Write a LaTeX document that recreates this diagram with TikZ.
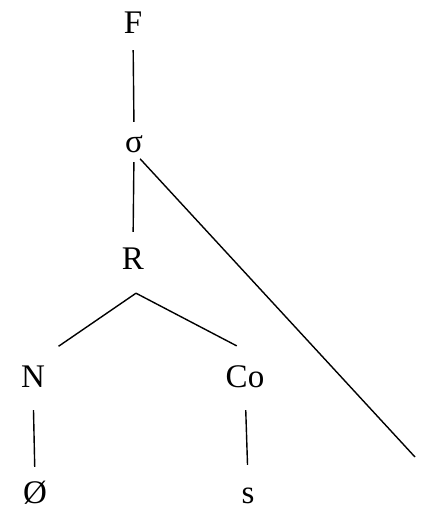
\documentclass[tikz,border=0pt]{standalone}
\usepackage{fontspec}
\setmainfont{Liberation Serif}
\usetikzlibrary{calc}

\begin{document}
\begin{tikzpicture}[x=1pt,y=1pt,
  seg/.style={font=\fontsize{33}{33}\selectfont,inner sep=0pt,
    text height=23pt,text depth=0pt,anchor=base},
  link/.style={line width=1.4pt}]
\useasboundingbox (0,0) rectangle (426,-512);
\node[seg] (foot) at (133,-33) {F};
\node[seg] (syl) at (134,-152) {σ};
\node[seg] (rime) at (133,-269) {R};
\node[seg] (nuc) at (33,-387) {N};
\node[seg] (coda) at (245,-387) {Co};
\node[seg] (empty) at (35,-503) {Ø};
\node[seg] (segs) at (248,-503) {s};
\coordinate (fork) at ([xshift=3pt,yshift=-24pt]rime.south);
\coordinate (tail) at (415,-457);
\draw[link,shorten <=17pt,shorten >=7pt] (foot.south)--(syl.north);
\draw[link,shorten <=10pt,shorten >=14pt] (syl.south)--(rime.north);
\draw[link,shorten >=31pt] (fork)--(nuc.north);
\draw[link,shorten >=38.7pt] (fork)--([xshift=26pt]coda.north);
\draw[link,shorten <=23pt,shorten >=13pt] (nuc.south)--(empty.north);
\draw[link,shorten <=23pt,shorten >=15pt] (coda.south)--(segs.north);
\draw[link,shorten <=9pt] (syl.south)--(tail);
\end{tikzpicture}
\end{document}
